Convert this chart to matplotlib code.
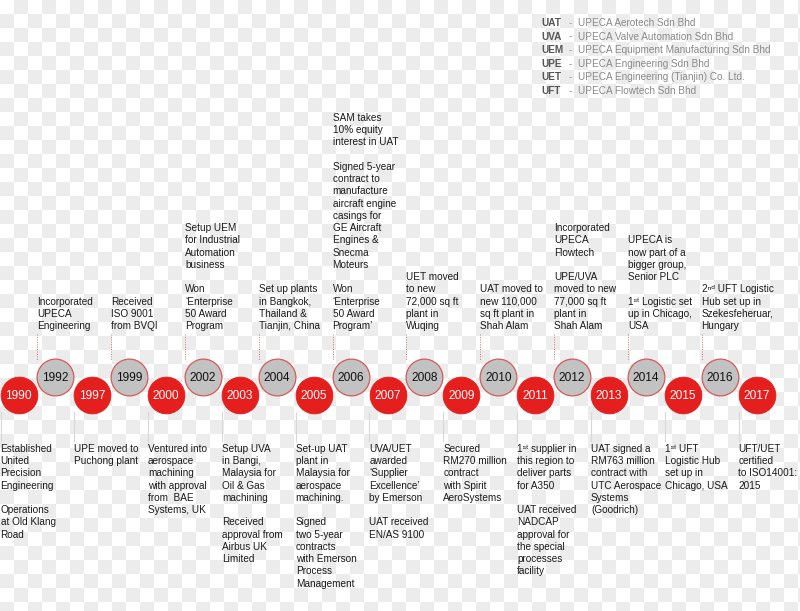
import numpy as np
import matplotlib
matplotlib.use("Agg")
import matplotlib.pyplot as plt

plt.rcParams['font.family'] = ['Liberation Sans', 'DejaVu Sans']

# years along the timeline, alternating low (red) / high (grey)
years = [1990, 1992, 1997, 1999, 2000, 2002, 2003, 2004, 2005, 2006, 2007,
         2008, 2009, 2010, 2011, 2012, 2013, 2014, 2015, 2016, 2017]

ST = "\u02e2\u1d57"   # superscript "st"
ND = "\u207f\u1d48"   # superscript "nd"

upper_notes = {
    1992: "Incorporated\nUPECA\nEngineering",
    1999: "Received\nISO 9001\nfrom BVQI",
    2002: "Setup UEM\nfor Industrial\nAutomation\nbusiness\n\nWon\n\u2018Enterprise\n50 Award\nProgram",
    2004: "Set up plants\nin Bangkok,\nThailand &\nTianjin, China",
    2006: "SAM takes\n10% equity\ninterest in UAT\n\nSigned 5-year\ncontract to\nmanufacture\naircraft engine\n"
          "casings for\nGE Aircraft\nEngines &\nSnecma\nMoteurs\n\nWon\n\u2018Enterprise\n50 Award\nProgram\u2019",
    2008: "UET moved\nto new\n72,000 sq ft\nplant in\nWuqing",
    2010: "UAT moved to\nnew 110,000\nsq ft plant in\nShah Alam",
    2012: "Incorporated\nUPECA\nFlowtech\n\nUPE/UVA\nmoved to new\n77,000 sq ft\nplant in\nShah Alam",
    2014: "UPECA is\nnow part of a\nbigger group,\nSenior PLC\n\n1" + ST + " Logistic set\nup in Chicago,\nUSA",
    2016: "2" + ND + " UFT Logistic\nHub set up in\nSzekesfeheruar,\nHungary",
}

lower_notes = {
    1990: "Established\nUnited\nPrecision\nEngineering\n\nOperations\nat Old Klang\nRoad",
    1997: "UPE moved to\nPuchong plant",
    2000: "Ventured into\naerospace\nmachining\nwith approval\nfrom  BAE\nSystems, UK",
    2003: "Setup UVA\nin Bangi,\nMalaysia for\nOil & Gas\nmachining\n\nReceived\napproval from\nAirbus UK\nLimited",
    2005: "Set-up UAT\nplant in\nMalaysia for\naerospace\nmachining.\n\nSigned\ntwo 5-year\ncontracts\nwith Emerson\nProcess\nManagement",
    2007: "UVA/UET\nawarded\n\u2018Supplier\nExcellence\u2019\nby Emerson\n\nUAT received\nEN/AS 9100",
    2009: "Secured\nRM270 million\ncontract\nwith Spirit\nAeroSystems",
    2011: "1" + ST + " supplier in\nthis region to\ndeliver parts\nfor A350\n\nUAT received\nNADCAP\napproval for\nthe special\nprocesses\nfacility",
    2013: "UAT signed a\nRM763 million\ncontract with\nUTC Aerospace\nSystems\n(Goodrich)",
    2015: "1" + ST + " UFT\nLogistic Hub\nset up in\nChicago, USA",
    2017: "UFT/UET\ncertified\nto ISO14001:\n2015",
}

legend_codes = ["UAT", "UVA", "UEM", "UPE", "UET", "UFT"]
legend_names = ["UPECA Aerotech Sdn Bhd", "UPECA Valve Automation Sdn Bhd",
                "UPECA Equipment Manufacturing Sdn Bhd", "UPECA Engineering Sdn Bhd",
                "UPECA Engineering (Tianjin) Co. Ltd.", "UPECA Flowtech Sdn Bhd"]

RED = "#e41f1d"
GREY = "#c2c2c2"
TXT = "#1a1a1a"

W, H = 800, 611
fig = plt.figure(figsize=(W / 100, H / 100), dpi=100)

# checkerboard background
cell = 14
rows, cols = np.indices((H, W)) // cell
bg = np.where((rows + cols) % 2 == 0, 1.0, 0.925)
fig.figimage(bg, xo=0, yo=0, origin='upper', cmap='gray', vmin=0, vmax=1, zorder=-5)

ax = fig.add_axes([0, 0, 1, 1])
ax.patch.set_alpha(0)
ax.set_axis_off()
# x in timeline steps, y in pixels from the top
step_px = 36.9
x0 = 18.5 / step_px
ax.set_xlim(-x0, W / step_px - x0)
ax.set_ylim(H, 0)

r = 18.0 / step_px
y_low, y_high = 395, 377
idx = np.arange(len(years))
is_high = idx % 2 == 1

ax.scatter(idx[~is_high], np.full((~is_high).sum(), y_low), s=700, color=RED,
           edgecolors=RED, linewidths=0.6, zorder=3)
ax.scatter(idx[is_high], np.full(is_high.sum(), y_high), s=700, color=GREY,
           edgecolors="#d65a58", linewidths=0.9, zorder=3)

for i, yr in enumerate(years):
    if i % 2:
        ax.text(i, y_high + 1, str(yr), ha='center', va='center', fontsize=8.6,
                color="#111111", zorder=4)
        ax.plot([i - r, i - r], [334, 360], color="#e07070", lw=0.7,
                ls=(0, (1, 1.5)), zorder=2)
        ax.text(i - r, 331, upper_notes[yr], ha='left', va='bottom', fontsize=7.2,
                color=TXT, linespacing=1.28)
    else:
        ax.text(i, y_low + 1, str(yr), ha='center', va='center', fontsize=8.6,
                color="white", zorder=4)
        ax.plot([i - r, i - r], [412, 441], color="#d8d8d8", lw=0.8, zorder=2)
        ax.text(i - r, 444, lower_notes[yr], ha='left', va='top', fontsize=7.2,
                color=TXT, linespacing=1.28)

# key of company codes
for k, (code, name) in enumerate(zip(legend_codes, legend_names)):
    yy = 23 + k * 13.6
    ax.text(541 / step_px - x0, yy, code, ha='left', va='center',
            fontsize=7.2, fontweight='bold', color="#555555")
    ax.text(569 / step_px - x0, yy, "-", ha='left', va='center',
            fontsize=7.2, color="#999999")
    ax.text(578 / step_px - x0, yy, name, ha='left', va='center',
            fontsize=7.2, color="#8a8a8a")

fig.savefig("out.png", dpi=100)
